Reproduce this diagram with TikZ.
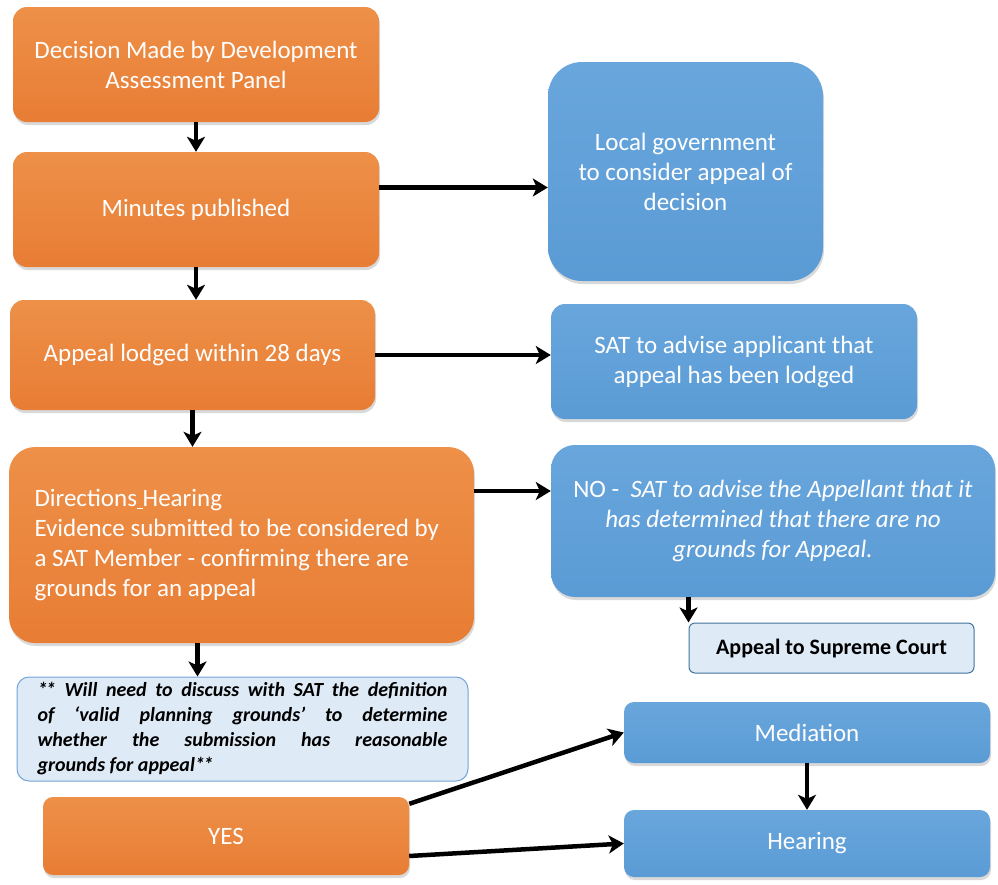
\documentclass[tikz,border=0pt]{standalone}
\usepackage{fontspec}
\setmainfont{Carlito}
\usepackage{tikz}
\usetikzlibrary{arrows,arrows.meta,positioning,shadows}
\definecolor{panelorange}{HTML}{E87D35}
\definecolor{paneltop}{HTML}{EE9048}
\definecolor{panelblue}{HTML}{5B9BD5}
\definecolor{bluetop}{HTML}{68A6DC}
\definecolor{notefill}{HTML}{DEEAF6}
\definecolor{noteline}{HTML}{74A3D9}
\definecolor{courtline}{HTML}{41719C}

\begin{document}
\begin{tikzpicture}[
    x=1pt, y=-1pt,
    orangebox/.style={rectangle, rounded corners=14pt, top color=paneltop, bottom color=panelorange, text=white, align=center, inner sep=0pt, font=\fontsize{25}{30}\selectfont, drop shadow={opacity=0.3, shadow xshift=1pt, shadow yshift=-3pt}},
    bluebox/.style={rectangle, rounded corners=14pt, top color=bluetop, bottom color=panelblue, text=white, align=center, inner sep=0pt, font=\fontsize{25}{30}\selectfont, drop shadow={opacity=0.3, shadow xshift=1pt, shadow yshift=-3pt}},
    notebox/.style={rectangle, rounded corners=12pt, draw=noteline, line width=1pt, fill=notefill, inner sep=0pt},
    arrow/.style={->, >={Stealth[length=15pt, width=18pt, inset=4pt]}, line width=4.5pt}
]
    \useasboundingbox (0,0) rectangle (998,884);

    % left column
    \node[orangebox, minimum width=366pt, minimum height=115pt] (decision) at (196,64.5) {Decision Made by Development\\Assessment Panel};
    \node[orangebox, minimum width=366pt, minimum height=115pt] (minutes) at (196,209.5) {Minutes published};
    \node[orangebox, minimum width=365pt, minimum height=110pt] (lodged) at (192.5,355) {Appeal lodged within 28 days};
    \node[orangebox, rounded corners=26pt, minimum width=465pt, minimum height=196pt, text width=414pt, align=flush left] (directions) at (241.5,545) {Directions\underline{\ }Hearing\\Evidence submitted to be considered by\\a SAT Member - confirming there are\\grounds for an appeal};
    \node[notebox, minimum width=451pt, minimum height=104pt, text width=410pt, align=justify, font=\fontsize{20}{25}\selectfont\bfseries\itshape] (note) at (242.5,729) {*\kern-1.5pt* Will need to discuss with SAT the definition\linebreak of ‘valid planning grounds’ to determine\linebreak whether the submission has reasonable\linebreak grounds for appeal*\kern-1.5pt*};
    \node[orangebox, rounded corners=10pt, minimum width=366pt, minimum height=78pt] (yes) at (226,836) {YES};

    % right column
    \node[bluebox, rounded corners=34pt, minimum width=275pt, minimum height=219pt] (council) at (685.5,171.5) {Local government\\to consider appeal of\\decision};
    \node[bluebox, minimum width=366pt, minimum height=115pt] (advise) at (734,361.5) {SAT to advise applicant that\\appeal has been lodged};
    \node[bluebox, rounded corners=24pt, minimum width=444pt, minimum height=152pt] (nogrounds) at (773,521) {NO - \textit{ SAT to advise the Appellant that it}\\\textit{has determined that there are no}\\\textit{grounds for Appeal.}};
    \node[rectangle, rounded corners=6pt, draw=courtline, line width=1pt, fill=notefill, minimum width=285pt, minimum height=50pt, font=\fontsize{22}{26}\selectfont\bfseries] (court) at (831.5,648) {Appeal to Supreme Court};
    \node[bluebox, rounded corners=10pt, minimum width=366pt, minimum height=61pt] (mediation) at (807,732.5) {Mediation};
    \node[bluebox, rounded corners=10pt, minimum width=366pt, minimum height=67pt] (hearing) at (807,843.5) {Hearing};

    % connectors
    \draw[arrow] (decision) -- (minutes);
    \draw[arrow] ([yshift=22pt]minutes.east) -- ([yshift=22pt]minutes.east -| council.west);
    \draw[arrow] (minutes.south) -- (minutes.south |- lodged.north);
    \draw[arrow] (lodged.east) -- (lodged.east -| advise.west);
    \draw[arrow] (lodged.south) -- (lodged.south |- directions.north);
    \draw[arrow] ([yshift=54pt]directions.east) -- ([yshift=54pt]directions.east -| nogrounds.west);
    \draw[arrow] ([xshift=-44pt]directions.south) -- ([xshift=-44pt]directions.south |- note.north);
    \draw[arrow] (nogrounds.south -| court.west) -- (court.north west);
    \draw[arrow] ([yshift=-7pt]yes.north east) -- (mediation.west);
    \draw[arrow] ([yshift=-20pt]yes.east) -- (hearing.west);
    \draw[arrow] (mediation) -- (hearing);
\end{tikzpicture}
\end{document}
